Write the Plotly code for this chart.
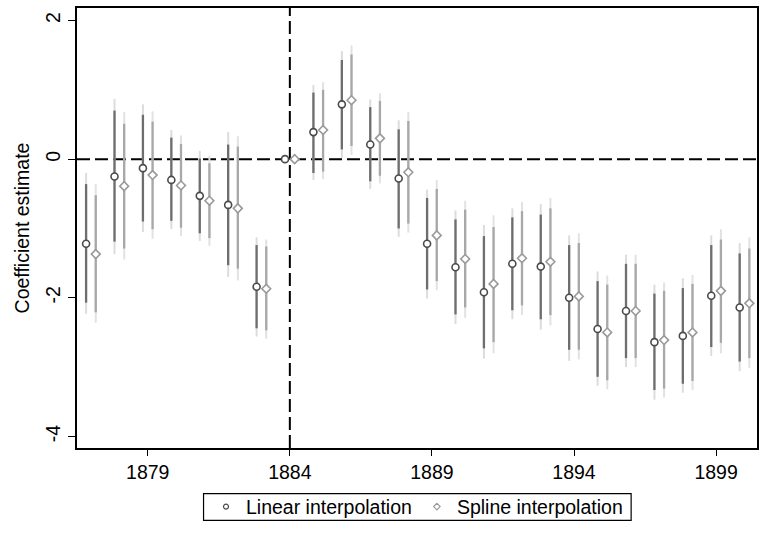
import plotly.graph_objects as go

years = list(range(1877, 1901))

lin_est = [-1.22, -0.25, -0.13, -0.30, -0.53, -0.66, -1.84, 0.00, 0.39, 0.79, 0.21, -0.28,
           -1.22, -1.56, -1.92, -1.51, -1.55, -2.00, -2.45, -2.19, -2.64, -2.55, -1.97, -2.14]
lin_lo90 = [-2.07, -1.19, -0.90, -0.89, -1.07, -1.53, -2.44, None, -0.20, 0.14, -0.32, -1.00,
            -1.88, -2.24, -2.73, -2.18, -2.31, -2.75, -3.14, -2.87, -3.33, -3.24, -2.71, -2.92]
lin_hi90 = [-0.36, 0.70, 0.64, 0.31, 0.01, 0.21, -1.24, None, 0.96, 1.43, 0.75, 0.43,
            -0.56, -0.87, -1.11, -0.84, -0.80, -1.24, -1.76, -1.51, -1.94, -1.86, -1.24, -1.36]
lin_lo95 = [-2.23, -1.37, -1.05, -1.01, -1.18, -1.70, -2.56, None, -0.30, 0.02, -0.43, -1.12,
            -2.01, -2.38, -2.88, -2.31, -2.46, -2.91, -3.27, -3.00, -3.47, -3.37, -2.84, -3.06]
lin_hi95 = [-0.20, 0.87, 0.79, 0.42, 0.12, 0.39, -1.13, None, 1.07, 1.56, 0.86, 0.56,
            -0.44, -0.74, -0.95, -0.71, -0.65, -1.10, -1.62, -1.38, -1.81, -1.72, -1.10, -1.21]

spl_est = [-1.37, -0.39, -0.23, -0.38, -0.60, -0.71, -1.87, 0.00, 0.42, 0.85, 0.30, -0.19,
           -1.10, -1.44, -1.80, -1.43, -1.48, -1.98, -2.50, -2.19, -2.61, -2.50, -1.90, -2.08]
spl_lo90 = [-2.21, -1.29, -1.01, -0.99, -1.14, -1.58, -2.47, None, -0.18, 0.19, -0.24, -0.93,
            -1.76, -2.14, -2.64, -2.11, -2.25, -2.75, -3.19, -2.87, -3.31, -3.20, -2.65, -2.87]
spl_hi90 = [-0.52, 0.51, 0.54, 0.22, -0.06, 0.18, -1.26, None, 1.00, 1.51, 0.84, 0.55,
            -0.43, -0.73, -0.98, -0.75, -0.71, -1.21, -1.81, -1.51, -1.90, -1.80, -1.16, -1.29]
spl_lo95 = [-2.36, -1.45, -1.15, -1.11, -1.25, -1.75, -2.59, None, -0.29, 0.06, -0.35, -1.06,
            -1.89, -2.29, -2.80, -2.25, -2.40, -2.89, -3.32, -3.00, -3.44, -3.33, -2.80, -3.01]
spl_hi95 = [-0.36, 0.68, 0.69, 0.34, 0.05, 0.33, -1.16, None, 1.11, 1.64, 0.95, 0.68,
            -0.30, -0.60, -0.81, -0.62, -0.56, -1.07, -1.68, -1.38, -1.78, -1.67, -1.01, -1.13]

x_ticks = [1879, 1884, 1889, 1894, 1899]
y_ticks = [-4, -2, 0, 2]
y_ticktext = ["-4", "-2", "0", "2"]
ref_year = 1884
offset = 0.17

FONT = "Liberation Sans, Arial, sans-serif"
FS = 19.5


def segs(xs, lo, hi):
    sx, sy = [], []
    for x, a, b in zip(xs, lo, hi):
        if a is None or b is None:
            continue
        sx += [x, x, None]
        sy += [a, b, None]
    return sx, sy


x_lin = [y - offset for y in years]
x_spl = [y + offset for y in years]

fig = go.Figure()

# reference lines
fig.add_hline(y=0, line=dict(color="black", width=2, dash="13px,5px"), layer="below")
fig.add_vline(x=ref_year, line=dict(color="black", width=2, dash="13px,5px"), layer="below")

for xs, lo95, hi95, lo90, hi90, c95, c90 in [
    (x_lin, lin_lo95, lin_hi95, lin_lo90, lin_hi90, "#dcdcdc", "#6e6e6e"),
    (x_spl, spl_lo95, spl_hi95, spl_lo90, spl_hi90, "#e2e2e2", "#a8a8a8"),
]:
    sx, sy = segs(xs, lo95, hi95)
    fig.add_trace(go.Scatter(x=sx, y=sy, mode="lines", line=dict(color=c95, width=2),
                             showlegend=False, hoverinfo="skip"))
    sx, sy = segs(xs, lo90, hi90)
    fig.add_trace(go.Scatter(x=sx, y=sy, mode="lines", line=dict(color=c90, width=2.3),
                             showlegend=False, hoverinfo="skip"))

fig.add_trace(go.Scatter(x=x_lin, y=lin_est, mode="markers", showlegend=False,
                         marker=dict(symbol="circle", size=7, color="white",
                                     line=dict(color="#4a4a4a", width=1.6))))
fig.add_trace(go.Scatter(x=x_spl, y=spl_est, mode="markers", showlegend=False,
                         marker=dict(symbol="diamond", size=6.8, color="white",
                                     line=dict(color="#9a9a9a", width=1.6))))

# legend entries
fig.add_trace(go.Scatter(x=[None], y=[None], mode="markers", name="Linear interpolation",
                         marker=dict(symbol="circle", size=5, color="white",
                                     line=dict(color="#4a4a4a", width=1.2))))
fig.add_trace(go.Scatter(x=[None], y=[None], mode="markers", name="Spline interpolation",
                         marker=dict(symbol="diamond", size=5, color="white",
                                     line=dict(color="#9a9a9a", width=1.2))))

# legend frame
fig.add_shape(type="rect", xref="paper", yref="paper",
              x0=0.1861, x1=0.8149, y0=-0.1643, y1=-0.1035,
              line=dict(color="black", width=1.2), fillcolor="rgba(0,0,0,0)")

fig.update_layout(
    width=765, height=533,
    margin=dict(l=77, r=6, t=6, b=83),
    paper_bgcolor="white", plot_bgcolor="white",
    font=dict(family=FONT, size=FS, color="black"),
    legend=dict(orientation="h", x=0.5, xanchor="center", y=-0.1339, yanchor="middle",
                borderwidth=0, bgcolor="rgba(0,0,0,0)", font=dict(size=FS),
                itemwidth=30, tracegroupgap=0),
    xaxis=dict(range=[1876.51, 1900.44], tickvals=x_ticks, ticks="outside", ticklen=6,
               tickwidth=1.3, tickcolor="black", showline=True, linecolor="black",
               linewidth=1.5, mirror=True, showgrid=False, zeroline=False,
               tickfont=dict(size=FS)),
    yaxis=dict(range=[-4.167, 2.18], tickvals=y_ticks, ticktext=y_ticktext,
               ticks="outside", ticklen=7,
               tickwidth=1.3, tickcolor="black", showline=True, linecolor="black",
               linewidth=1.5, mirror=True, showgrid=False, zeroline=False,
               tickangle=-90, tickfont=dict(size=FS),
               title=dict(text="Coefficient estimate", font=dict(size=FS), standoff=8)),
)

fig.write_html("out.html")
